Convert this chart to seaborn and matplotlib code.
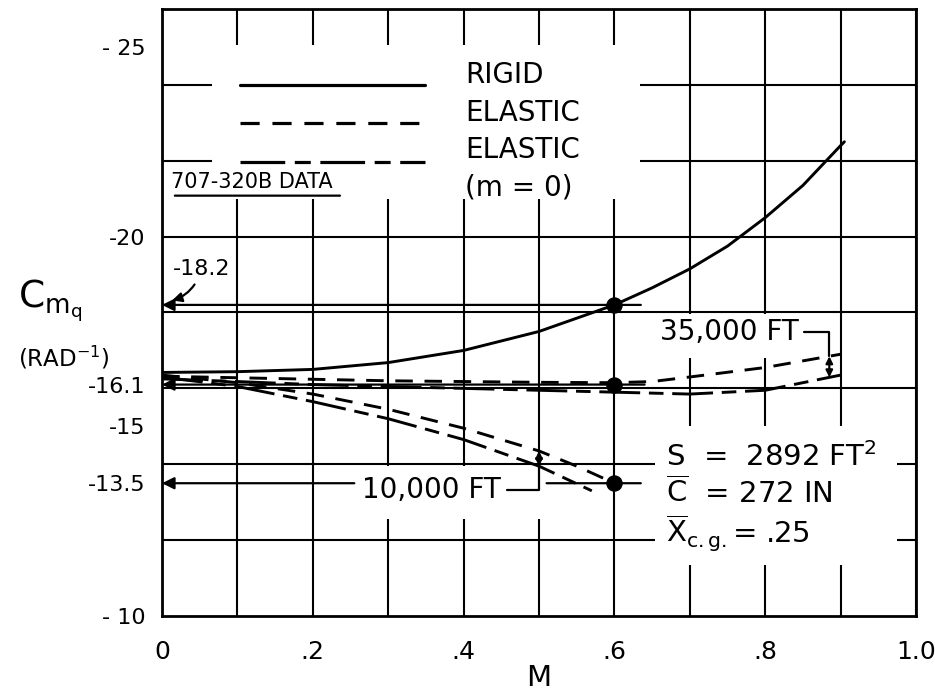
import numpy as np
import matplotlib
matplotlib.use("Agg")
import matplotlib.pyplot as plt
from matplotlib.patches import Rectangle
import seaborn as sns

# Cmq vs Mach
M_rigid = [0.0, 0.1, 0.2, 0.3, 0.4, 0.5, 0.6, 0.65, 0.7, 0.75, 0.8, 0.85, 0.9, 0.905]
cmq_rigid = [-16.42, -16.44, -16.5, -16.68, -17.0, -17.5, -18.2, -18.65, -19.15, -19.75,
             -20.5, -21.35, -22.4, -22.5]

# 35,000 ft
M_35k = [0.0, 0.1, 0.2, 0.3, 0.4, 0.5, 0.6, 0.65, 0.7, 0.8, 0.9]
cmq_35k = [-16.32, -16.28, -16.24, -16.2, -16.18, -16.16, -16.15, -16.18, -16.3, -16.55, -16.9]
M_35k_m0 = [0.0, 0.1, 0.2, 0.3, 0.4, 0.5, 0.6, 0.7, 0.8, 0.9]
cmq_35k_m0 = [-16.25, -16.18, -16.1, -16.05, -16.0, -15.95, -15.9, -15.85, -15.95, -16.35]

# 10,000 ft
M_10k = [0.0, 0.1, 0.2, 0.3, 0.4, 0.5, 0.55, 0.6]
cmq_10k = [-16.35, -16.15, -15.85, -15.45, -14.95, -14.35, -13.95, -13.5]
M_10k_m0 = [0.0, 0.1, 0.2, 0.3, 0.4, 0.5, 0.57]
cmq_10k_m0 = [-16.3, -16.05, -15.65, -15.2, -14.65, -13.95, -13.3]

# marked values at M = .6
dot_M = [0.6, 0.6, 0.6]
dot_cmq = [-18.2, -16.1, -13.5]

x_ticks = [0.0, 0.1, 0.2, 0.3, 0.4, 0.5, 0.6, 0.7, 0.8, 0.9, 1.0]
x_labels = ["0", "", ".2", "", ".4", "", ".6", "", ".8", "", "1.0"]
y_ticks = [-25, -20, -16.1, -15, -13.5, -10]
y_labels = ["- 25", "-20", "-16.1", "-15", "-13.5", "- 10"]
y_grid = [-24, -22, -20, -18, -16, -14, -12]
legend_labels = ["RIGID", "ELASTIC", "ELASTIC\n(m = 0)"]

sns.set_style("white")
plt.rcParams["font.family"] = ["DejaVu Sans"]
plt.rcParams["mathtext.fontset"] = "dejavusans"
for k in ["text.color", "axes.labelcolor", "xtick.color", "ytick.color"]:
    plt.rcParams[k] = "black"

SHORT = (0, (6, 4))
LONG = (0, (14, 3, 5, 3))

fig = plt.figure(figsize=(9.35, 6.97), dpi=100)
ax = fig.add_axes([0.1733, 0.1162, 0.8064, 0.8709])


def draw(x, y, ls):
    sns.lineplot(x=x, y=y, ax=ax, color="black", lw=2.1, linestyle=ls,
                 sort=False, estimator=None, zorder=3)
    return ax.lines[-1]


h_rigid = draw(M_rigid, cmq_rigid, "-")
h_el = draw(M_35k, cmq_35k, SHORT)
h_m0 = draw(M_35k_m0, cmq_35k_m0, LONG)
draw(M_10k, cmq_10k, SHORT)
draw(M_10k_m0, cmq_10k_m0, LONG)

sns.scatterplot(x=dot_M, y=dot_cmq, ax=ax, color="black", s=120, zorder=5,
                edgecolor="black")

ax.set_xlim(0, 1.0)
ax.set_ylim(-10, -26)

# grid
ax.set_xticks(x_ticks)
ax.set_xticklabels(x_labels, fontsize=18)
ax.set_yticks(y_ticks)
ax.set_yticklabels(y_labels, fontsize=16)
ax.set_yticks(y_grid, minor=True)
ax.yaxis.remove_overlapping_locs = False
ax.grid(True, axis="x", which="major", color="black", lw=1.5)
ax.grid(True, axis="y", which="minor", color="black", lw=1.5)
ax.tick_params(axis="x", length=0, pad=17)
ax.tick_params(axis="y", which="major", direction="in", length=8, width=1.5, pad=12)
ax.tick_params(axis="y", which="minor", length=0)
for s in ax.spines.values():
    s.set_linewidth(2)
    s.set_color("black")

# white areas where the grid is broken for lettering
for (x0, y0, w, h) in [(0.066, -25.05, 0.568, 4.05), (0.654, -15.0, 0.321, 3.65),
                       (0.635, -17.95, 0.235, 1.15), (0.255, -13.95, 0.26, 1.4)]:
    ax.add_patch(Rectangle((x0, y0), w, h, facecolor="white", edgecolor="none", zorder=1))

ax.set_xlabel("M", fontsize=21, labelpad=0)
ax.set_ylabel("")
fig.text(0.0535, 0.568, r"$\mathregular{C_{m_q}}$", fontsize=27, ha="center", va="center")
fig.text(0.068, 0.486, r"(RAD$^{-1}$)", fontsize=16.5, ha="center", va="center")

# reference lines to the axis
arr = dict(arrowstyle="-|>", color="black", lw=1.6, mutation_scale=18, shrinkA=0, shrinkB=0)
ax.annotate("", xy=(0, dot_cmq[0]), xytext=(0.635, dot_cmq[0]), arrowprops=arr, zorder=4)
ax.annotate("", xy=(0, dot_cmq[1]), xytext=(0.64, dot_cmq[1]), arrowprops=arr, zorder=4)
ax.annotate("", xy=(0, dot_cmq[2]), xytext=(0.255, dot_cmq[2]), arrowprops=arr, zorder=4)
ax.annotate("", xy=(0.51, dot_cmq[2]), xytext=(0.635, dot_cmq[2]),
            arrowprops=dict(arrowstyle="-", color="black", lw=1.6, shrinkA=0, shrinkB=0))

ax.annotate("-18.2", xy=(0.01, -18.3), xytext=(0.052, -19.15), fontsize=16,
            ha="center", va="center",
            arrowprops=dict(arrowstyle="-|>", color="black", lw=1.6,
                            connectionstyle="arc3,rad=-0.3", mutation_scale=14))

# altitude call-outs
lead = dict(arrowstyle="-", color="black", lw=1.6, shrinkA=2, shrinkB=0,
            connectionstyle="angle,angleA=0,angleB=90,rad=0")
dbl = dict(arrowstyle="<|-|>", color="black", lw=1.6, mutation_scale=10, shrinkA=0, shrinkB=0)
m35 = 0.885
ax.annotate("35,000 FT", xy=(m35, np.interp(m35, M_35k, cmq_35k)), xytext=(0.752, -17.48),
            fontsize=20, ha="center", va="center", arrowprops=lead, zorder=4)
ax.annotate("", xy=(m35, np.interp(m35, M_35k, cmq_35k)),
            xytext=(m35, np.interp(m35, M_35k_m0, cmq_35k_m0)), arrowprops=dbl)
m10 = 0.5
ax.annotate("10,000 FT", xy=(m10, np.interp(m10, M_10k_m0, cmq_10k_m0)), xytext=(0.357, -13.33),
            fontsize=20, ha="center", va="center", arrowprops=lead, zorder=4)
ax.annotate("", xy=(m10, np.interp(m10, M_10k, cmq_10k)),
            xytext=(m10, np.interp(m10, M_10k_m0, cmq_10k_m0)), arrowprops=dbl)

# reference geometry
ax.text(0.668, -14.2, r"S  =  2892 FT$^2$", fontsize=21, va="center", zorder=4)
ax.text(0.668, -13.25, r"$\overline{\mathregular{C}}$  = 272 IN", fontsize=21, va="center", zorder=4)
ax.text(0.668, -12.2, r"$\overline{\mathregular{X}}_{\mathregular{c.g.}}$= .25", fontsize=21,
        va="center", zorder=4)

# legend
leg = ax.legend([h_rigid, h_el, h_m0], legend_labels, loc="upper left",
                bbox_to_anchor=(0.104, -24.62), bbox_transform=ax.transData,
                frameon=False, fontsize=20, handlelength=6.65, handletextpad=1.45,
                labelspacing=0.33, borderpad=0, borderaxespad=0)
leg.get_texts()[2].set_linespacing(1.45)
# sample lines sit a little below their words in the original
for line, dy in zip(leg.get_lines(), [-8.5, -8.5, 6]):
    line.set_linewidth(2.3)
    line.set_ydata(np.asarray(line.get_ydata(), dtype=float) + dy)

ax.text(0.119, -21.45, "707-320B DATA", fontsize=15, ha="center", va="center", zorder=4)
ax.annotate("", xy=(0.017, -21.08), xytext=(0.236, -21.08),
            arrowprops=dict(arrowstyle="-", color="black", lw=1.6, shrinkA=0, shrinkB=0))

fig.savefig("out.png", dpi=100)
